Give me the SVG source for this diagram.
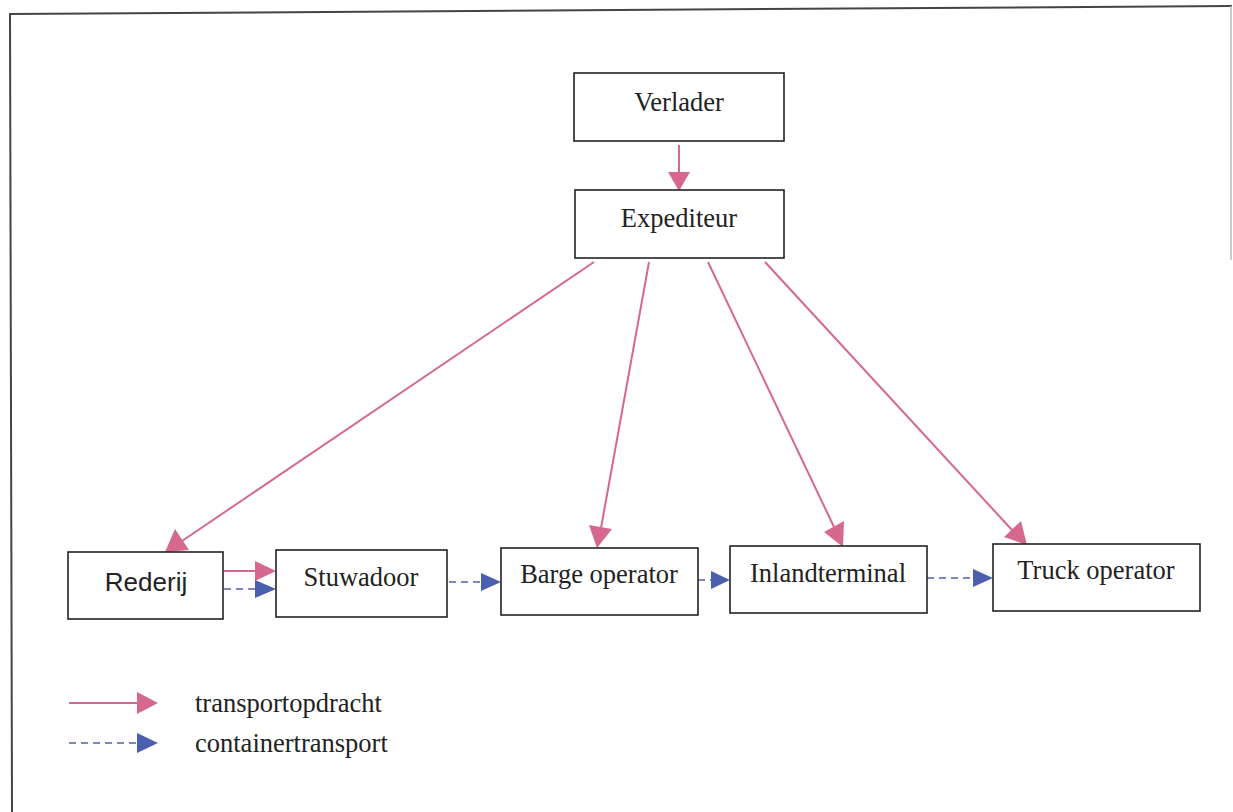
<svg xmlns="http://www.w3.org/2000/svg" width="1233" height="812" viewBox="0 0 1233 812">
<style>
.box{fill:#fff;stroke:#222;stroke-width:1.6}
.t{font-family:"Liberation Serif","Times New Roman",serif;font-size:26.5px;fill:#222;text-anchor:middle}
.s{font-family:"Liberation Sans",Arial,sans-serif;font-size:26px;fill:#222;text-anchor:middle}
.lg{font-family:"Liberation Serif","Times New Roman",serif;font-size:26.5px;fill:#222}
.p{stroke:#d6688f;stroke-width:2;fill:none}
.b{stroke:#5560a8;stroke-width:1.5;stroke-dasharray:7,5;fill:none}
</style>
<rect width="1233" height="812" fill="#fff"/>
<g id="frame" stroke="#444" fill="none">
<line x1="9" y1="14" x2="1232" y2="6" stroke-width="2"/>
<line x1="10" y1="14" x2="12" y2="812" stroke-width="2"/>
<line x1="1231" y1="6" x2="1231" y2="260" stroke="#bbb" stroke-width="1.5"/>
</g>
<g id="connectors">
<line class="p" x1="679" y1="145" x2="679" y2="173"/>
<path d="M668,172 L690,172 L679,191 Z" fill="#d6688f"/>
<line class="p" x1="594" y1="262" x2="182" y2="541"/>
<path d="M165,552 L175,529 L189,550 Z" fill="#d6688f"/>
<line class="p" x1="649" y1="262" x2="601" y2="528"/>
<path d="M597,548 L589,525 L612,529 Z" fill="#d6688f"/>
<line class="p" x1="708" y1="262" x2="834" y2="527"/>
<path d="M843,547 L824,532 L844,521 Z" fill="#d6688f"/>
<line class="p" x1="765" y1="262" x2="1012" y2="530"/>
<path d="M1027,545 L1004,537 L1021,521 Z" fill="#d6688f"/>
<line class="p" x1="224" y1="571" x2="257" y2="571"/>
<path d="M255,561 L276,571 L255,581 Z" fill="#d6688f"/>
<line class="b" x1="224" y1="589" x2="257" y2="589"/>
<path d="M255,580 L276,589 L255,598 Z" fill="#4a5fae"/>
<line class="b" x1="449" y1="582" x2="482" y2="582"/>
<path d="M481,573 L501,582 L481,591 Z" fill="#4a5fae"/>
<line class="b" x1="698" y1="580" x2="712" y2="580"/>
<path d="M711,571 L730,580 L711,589 Z" fill="#4a5fae"/>
<line class="b" x1="927" y1="578" x2="974" y2="578"/>
<path d="M973,569 L993,578 L973,587 Z" fill="#4a5fae"/>
</g>
<g id="verlader"><rect class="box" x="574" y="73" width="210" height="68"/><text class="t" x="679" y="111">Verlader</text></g>
<g id="expediteur"><rect class="box" x="575" y="190" width="209" height="68"/><text class="t" x="679" y="227">Expediteur</text></g>
<g id="rederij"><rect class="box" x="68" y="552" width="155" height="67"/><text class="s" x="146" y="591">Rederij</text></g>
<g id="stuwadoor"><rect class="box" x="276" y="550" width="171" height="67"/><text class="t" x="361" y="586">Stuwadoor</text></g>
<g id="barge"><rect class="box" x="501" y="548" width="197" height="67"/><text class="t" x="599" y="583">Barge operator</text></g>
<g id="inland"><rect class="box" x="730" y="546" width="197" height="67"/><text class="t" x="828" y="582">Inlandterminal</text></g>
<g id="truck"><rect class="box" x="993" y="544" width="207" height="67"/><text class="t" x="1096" y="579">Truck operator</text></g>
<g id="legend">
<line class="p" x1="69" y1="703" x2="138" y2="703"/>
<path d="M137,692 L158,703 L137,714 Z" fill="#d6688f"/>
<text class="lg" x="195" y="712">transportopdracht</text>
<line class="b" x1="69" y1="743" x2="138" y2="743"/>
<path d="M137,733 L158,743 L137,753 Z" fill="#4a5fae"/>
<text class="lg" x="195" y="752">containertransport</text>
</g>
</svg>
